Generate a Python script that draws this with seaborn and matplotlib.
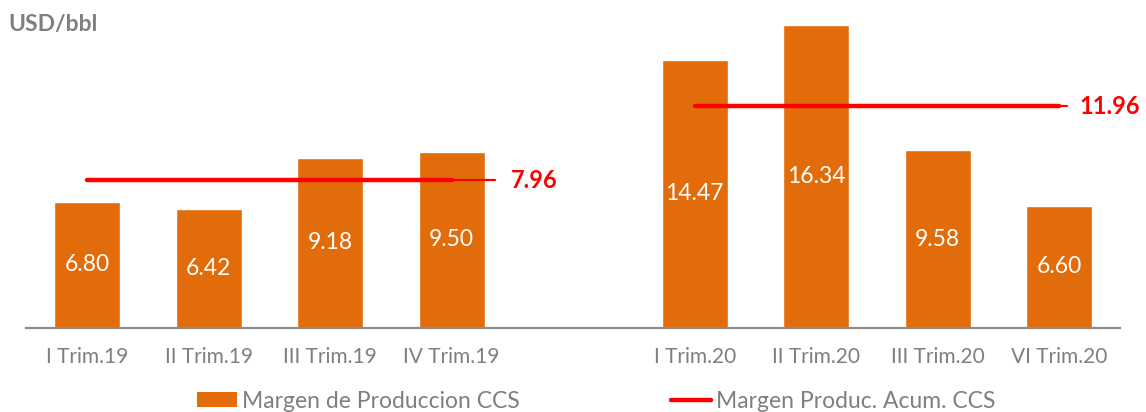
import pandas as pd
import seaborn as sns
import matplotlib
matplotlib.use('Agg')
import matplotlib.pyplot as plt
from matplotlib.patches import Patch
from matplotlib.lines import Line2D

# data
quarters = ['I Trim.19', 'II Trim.19', 'III Trim.19', 'IV Trim.19',
            'I Trim.20', 'II Trim.20', 'III Trim.20', 'VI Trim.20']
margen = [6.80, 6.42, 9.18, 9.50, 14.47, 16.34, 9.58, 6.60]
groups = [['I Trim.19', 'II Trim.19', 'III Trim.19', 'IV Trim.19'],
          ['I Trim.20', 'II Trim.20', 'III Trim.20', 'VI Trim.20']]
acum = [7.96, 11.96]

order = groups[0] + [' '] + groups[1]   # blank slot between the two years

ORANGE = '#E36C0A'
RED = '#FF0000'
GRAY = '#7F7F7F'

sns.set_style('white')
plt.rcParams['font.family'] = ['Lato', 'DejaVu Sans']

df = pd.DataFrame({'Trimestre': quarters, 'Margen': margen})

fig = plt.figure(figsize=(11.46, 4.12), dpi=100)
ax = fig.add_axes([26.25 / 1146, 84 / 412, (1120 - 26.25) / 1146, 318 / 412])

sns.barplot(data=df, x='Trimestre', y='Margen', order=order, color=ORANGE,
            saturation=1, width=0.543, ax=ax)

# value labels centred in each bar
for q, v in zip(quarters, margen):
    ax.text(order.index(q), v / 2, f'{v:.2f}', ha='center', va='center',
            color='white', fontsize=16.5)

# accumulated average lines
lead = [(0.36, 0.49), (0.06, 0.17)]
for g, val, (ext, off) in zip(groups, acum, lead):
    x0, x1 = order.index(g[0]), order.index(g[-1])
    sns.lineplot(x=[x0, x1], y=[val, val], color=RED, linewidth=3.2, ax=ax)
    ax.plot([x1, x1 + ext], [val, val], color=RED, linewidth=1.6)
    ax.text(x1 + off, val, f'{val:.2f}', ha='left', va='center',
            color=RED, fontsize=17, fontweight='bold')

ax.set_xlim(-0.5, len(order) - 0.5)
ax.set_ylim(0, 318 / 18.54)
ax.set_xlabel('')
ax.set_ylabel('')
ax.set_yticks([])
for s in ['top', 'right', 'left']:
    ax.spines[s].set_visible(False)
ax.spines['bottom'].set_color('#8C8C8C')
ax.spines['bottom'].set_linewidth(1.6)
ax.tick_params(axis='x', length=0, pad=14, labelsize=15, labelcolor=GRAY)

fig.text(8 / 1146, 1 - 24 / 412, 'USD/bbl', ha='left', va='center',
         fontsize=16.5, fontweight='bold', color=GRAY)

handles = [Patch(facecolor=ORANGE, edgecolor='none'),
           Line2D([0], [0], color=RED, linewidth=3.2)]
labels = ['Margen de Produccion CCS', 'Margen Produc. Acum. CCS']
fig.legend(handles, labels, loc='center', bbox_to_anchor=(596 / 1146, 1 - 401 / 412),
           ncol=2, frameon=False, fontsize=16.5, labelcolor=GRAY,
           handlelength=1.75, handleheight=0.6, handletextpad=0.2,
           columnspacing=6.6, borderaxespad=0, borderpad=0)

plt.savefig('out.png', dpi=100)
